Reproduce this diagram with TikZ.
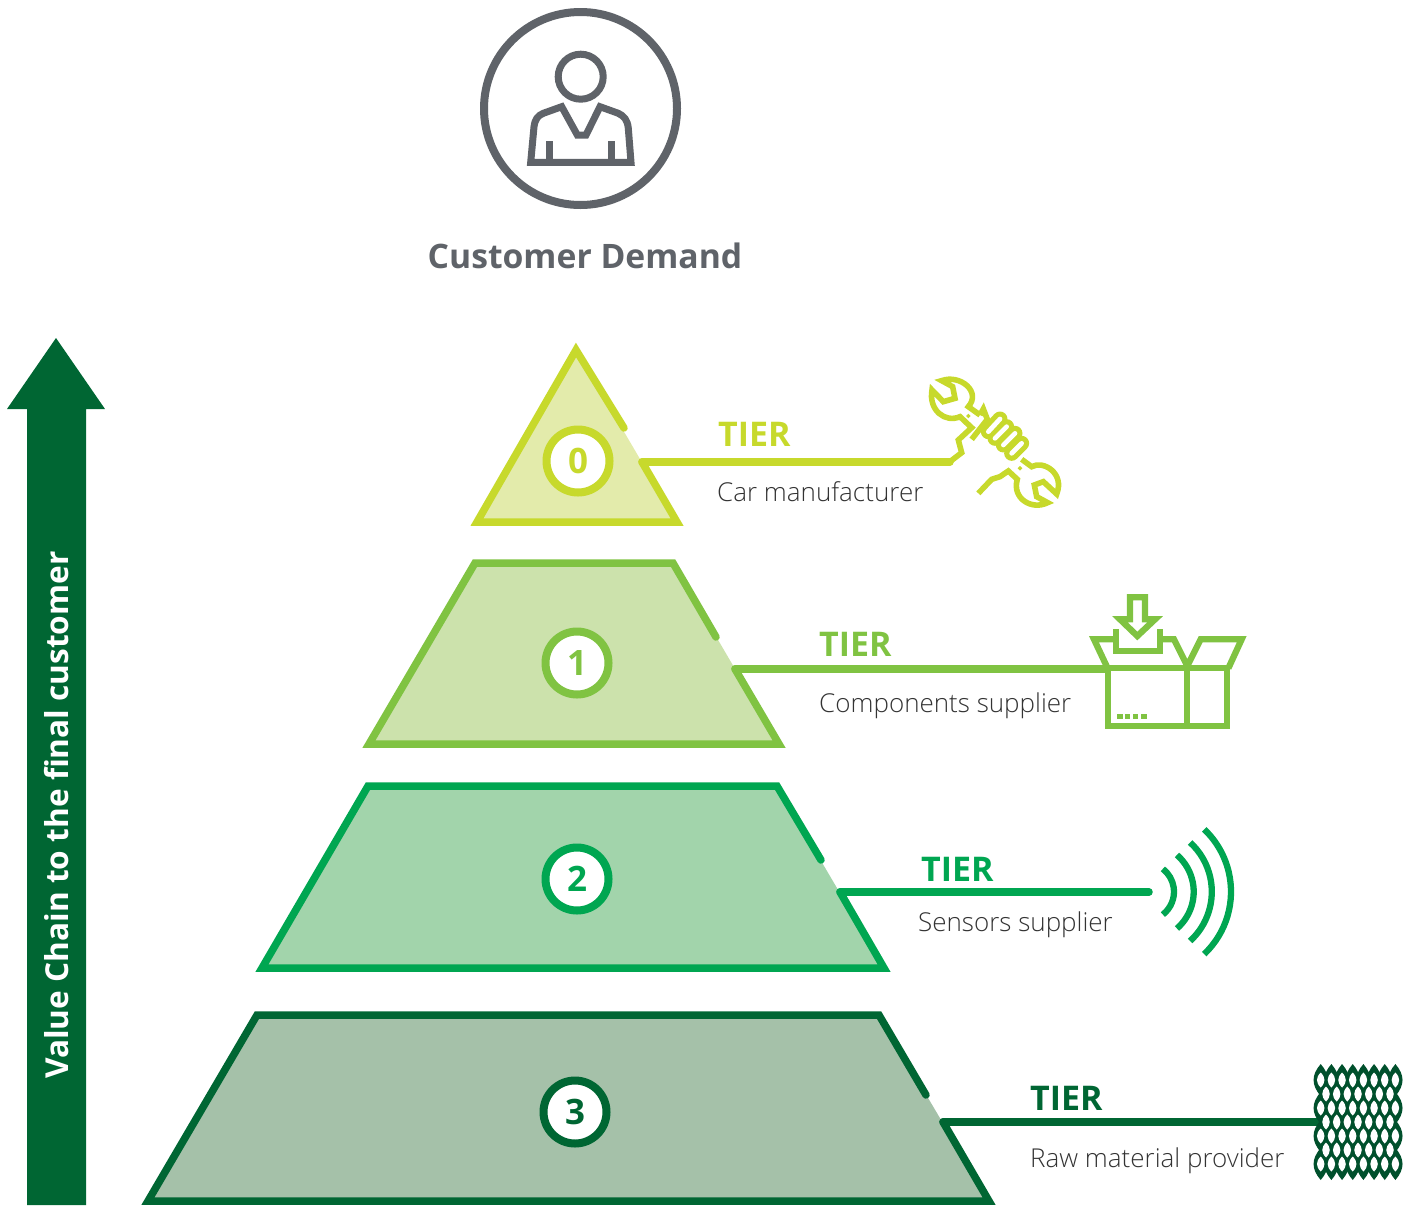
\documentclass[tikz,border=0pt]{standalone}
\usepackage{fontspec}
\setmainfont{Open Sans}
\newfontfamily\lightfont{Open Sans Light}
\definecolor{tzero}{HTML}{C7D92C}
\definecolor{tzerofill}{HTML}{E3EBAB}
\definecolor{tone}{HTML}{80C342}
\definecolor{tonefill}{HTML}{CCE2AC}
\definecolor{ttwo}{HTML}{00A651}
\definecolor{ttwofill}{HTML}{A2D4AB}
\definecolor{tthree}{HTML}{006633}
\definecolor{tthreefill}{HTML}{A5C1A9}
\definecolor{meshgreen}{HTML}{00502C}
\definecolor{greyicon}{HTML}{5F6369}
\definecolor{bodytext}{HTML}{333333}
\tikzset{
  level/.style={line width=7.5pt,line cap=round,miter limit=10},
  tierline/.style={line width=7.5pt,line cap=round},
  icon/.style={line width=6.3pt,miter limit=10},
  badge/.style={circle,draw,fill=white,line width=8pt,minimum size=63pt,inner sep=0pt,font=\fontsize{35}{35}\selectfont\bfseries},
  tiertag/.style={anchor=west,inner sep=0pt,font=\fontsize{34}{34}\selectfont\bfseries},
  tiername/.style={anchor=west,inner sep=0pt,text=bodytext,font=\fontsize{26}{26}\lightfont},
  person/.style={line width=7pt,draw=greyicon,miter limit=10}
}
\begin{document}
\begin{tikzpicture}[x=1pt,y=-1pt]
\useasboundingbox (0,0) rectangle (1413,1205);

\draw[greyicon,line width=8pt] (580.5,108.5) circle (96.5pt);
\draw[person] (580.7,76.7) circle (22.5pt);
\draw[person] (530.7,162.3) -- (534,126.7) .. controls (535,119) and (538,115.5) .. (543.3,113.3) -- (561.7,106.7) -- (577.3,135) -- (586,135) -- (600,106.7) -- (618.3,113.3) .. controls (624,116) and (627.5,120) .. (628.3,128.3) -- (631,162.3) -- cycle;
\draw[person] (549.3,141) -- (549.3,162);
\draw[person] (611.7,141) -- (611.7,162);
\node[inner sep=0pt,text=greyicon,font=\fontsize{33.7}{33.7}\selectfont\bfseries] (demand) at (585,256) {Customer Demand};

\fill[tthree] (27,1205) -- (27,409) -- (7,409) -- (56,338) -- (105,409) -- (86,409) -- (86,1205) -- cycle;
\node[rotate=90,inner sep=0pt,text=white,font=\fontsize{31.6}{31.6}\selectfont\bfseries] (chain) at (57,815) {Value Chain to the final customer};

% tier 0
\coordinate (t0end) at (624,428);
\coordinate (t0start) at (642,462);
\coordinate (t0icon) at (950,462);
\fill[tzerofill] (576,350) -- (677,522) -- (477,522) -- cycle;
\draw[level,tzero] (t0end) -- (576,350) -- (477,522) -- (677,522) -- (t0start);
\draw[tierline,tzero] (t0start) -- (t0icon);
\node[badge,draw=tzero,text=tzero] (b0) at (578,461) {0};
\node[tiertag,text=tzero] (tag0) at (718,434) {TIER};
\node[tiername] (name0) at (717,491.5) {Car manufacturer};

% tier 1
\coordinate (t1end) at (716,637);
\coordinate (t1start) at (735,669);
\coordinate (t1icon) at (1106,669);
\fill[tonefill] (475,563) -- (673,563) -- (779,744) -- (369,744) -- cycle;
\draw[level,tone] (t1end) -- (673,563) -- (475,563) -- (369,744) -- (779,744) -- (t1start);
\draw[tierline,tone] (t1start) -- (t1icon);
\node[badge,draw=tone,text=tone] (b1) at (577,663) {1};
\node[tiertag,text=tone] (tag1) at (819,644) {TIER};
\node[tiername] (name1) at (819,706) {Components supplier};

% tier 2
\coordinate (t2end) at (821,860);
\coordinate (t2start) at (840,892);
\coordinate (t2icon) at (1149,892);
\fill[ttwofill] (368,786) -- (777,786) -- (884,968) -- (262,968) -- cycle;
\draw[level,ttwo] (t2end) -- (777,786) -- (368,786) -- (262,968) -- (884,968) -- (t2start);
\draw[tierline,ttwo] (t2start) -- (t2icon);
\node[badge,draw=ttwo,text=ttwo] (b2) at (577,879) {2};
\node[tiertag,text=ttwo] (tag2) at (921,869) {TIER};
\node[tiername] (name2) at (918,925) {Sensors supplier};

% tier 3
\coordinate (t3end) at (926,1095);
\coordinate (t3start) at (943,1122);
\coordinate (t3icon) at (1318,1122);
\fill[tthreefill] (257,1015) -- (879,1015) -- (989,1201) -- (148,1201) -- cycle;
\draw[level,tthree] (t3end) -- (879,1015) -- (257,1015) -- (148,1201) -- (989,1201) -- (t3start);
\draw[tierline,tthree] (t3start) -- (t3icon);
\node[badge,draw=tthree,text=tthree] (b3) at (575,1112) {3};
\node[tiertag,text=tthree] (tag3) at (1030,1098) {TIER};
\node[tiername] (name3) at (1030,1161) {Raw material provider};

% wrench
\begin{scope}[shift={(900,360)},x=0.3333pt,y=-0.3333pt,icon,tzero,line width=5.6pt]
\draw[line width=7.5pt] (0,305) -- (150,305);
\draw (150,305) -- (185,278) -- (175,240) -- (215,203) -- (180,170) .. controls (135,190) and (85,150) .. (96,90) -- (130,125) -- (165,115) -- (158,80) -- (125,62) .. controls (180,42) and (245,95) .. (205,140) -- (240,165);
\fill (205,161) -- (212,168) -- (205,175) -- (198,168) -- cycle;
\draw (215,238) -- (262,178) -- (250,147) -- (240,165);
\foreach \ax/\ay/\bx/\by in {265/215/300/177,285/235/320/200,310/255/345/220,335/280/365/250}
  \draw[line width=15pt,line cap=round] (\ax,\ay) -- (\bx,\by);
\foreach \ax/\ay/\bx/\by in {265/215/300/177,285/235/320/200,310/255/345/220,335/280/365/250}
  \draw[white,line width=4.7pt,line cap=round] (\ax,\ay) -- (\bx,\by);
\draw (365,298) -- (395,320) .. controls (430,300) and (495,340) .. (470,402) -- (430,365) -- (403,375) -- (410,410) -- (443,428) .. controls (395,452) and (335,415) .. (352,358) -- (325,333) -- (300,350) -- (275,358) -- (235,400);
\fill (360,318) -- (367,325) -- (360,332) -- (353,325) -- cycle;
\end{scope}

% box
\begin{scope}[shift={(1070,580)},x=0.3333pt,y=-0.3333pt,icon,tone]
\draw (113,265) rectangle (470,437);
\draw (352,265) -- (352,437);
\draw (113,265) -- (72,178) -- (137,178);
\draw (137,148) -- (137,212) -- (270,212) -- (270,148);
\draw (270,178) -- (312,178) -- (352,258) -- (392,178) -- (515,178) -- (475,265);
\draw (180,52) -- (225,52) -- (225,118) -- (255,118) -- (202,168) -- (150,118) -- (180,118) -- cycle;
\foreach \dx in {150,173,197,222}
  \fill (\dx-8,402) rectangle (\dx+8,418);
\end{scope}

% waves
\coordinate (wave) at (1145,891.7);
\foreach \wr/\wa in {29/52,48.7/49,66.8/47.5,86/46.5}
  \draw[ttwo,line width=6.3pt] (wave) ++(-\wa:\wr pt) arc[start angle=-\wa,end angle=\wa,radius=\wr pt];

% mesh
\foreach \rowy/\cols/\ox in {1080/7/1320.7,1094/6/1326,1108/7/1320.7,1122/6/1326,1136/7/1320.7,1150/6/1326,1164/7/1320.7}
  \foreach \cx in {0,...,\cols}
    \fill[meshgreen] (\ox+10.67*\cx,\rowy-16) .. controls (\ox-9.5+10.67*\cx,\rowy-5) and (\ox-9.5+10.67*\cx,\rowy+5) .. (\ox+10.67*\cx,\rowy+16) .. controls (\ox+9.5+10.67*\cx,\rowy+5) and (\ox+9.5+10.67*\cx,\rowy-5) .. cycle;
\foreach \rowy/\cols/\ox in {1080/7/1320.7,1094/6/1326,1108/7/1320.7,1122/6/1326,1136/7/1320.7,1150/6/1326,1164/7/1320.7}
  \foreach \cx in {0,...,\cols}
    \fill[white] (\ox+10.67*\cx,\rowy-7.5) .. controls (\ox-5+10.67*\cx,\rowy-2.5) and (\ox-5+10.67*\cx,\rowy+2.5) .. (\ox+10.67*\cx,\rowy+7.5) .. controls (\ox+5+10.67*\cx,\rowy+2.5) and (\ox+5+10.67*\cx,\rowy-2.5) .. cycle;
\end{tikzpicture}
\end{document}
